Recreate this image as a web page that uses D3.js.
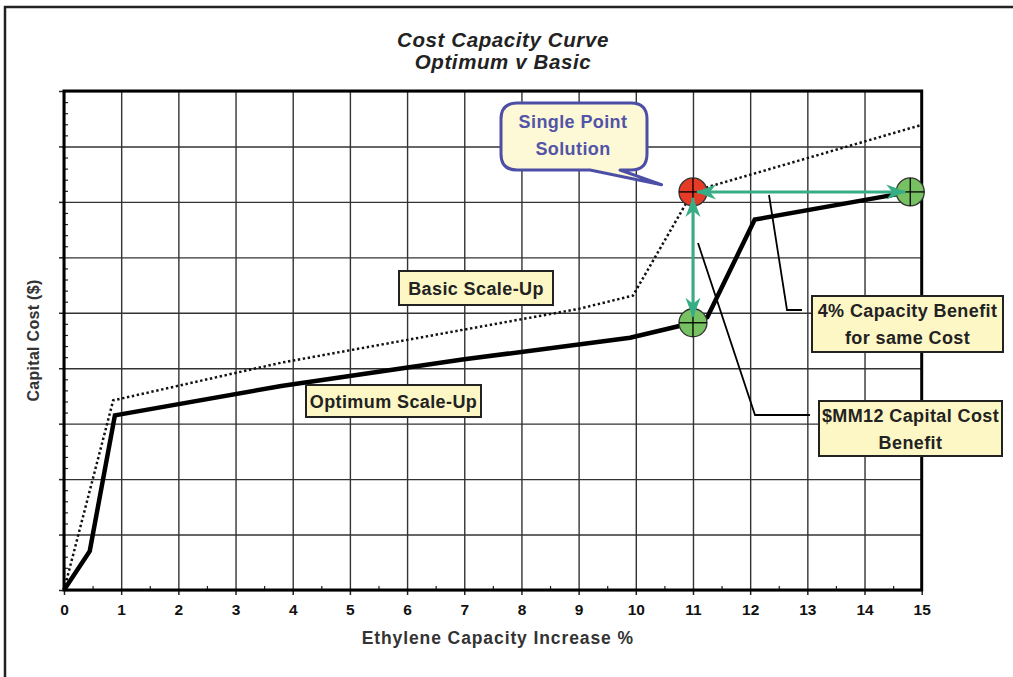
<!DOCTYPE html>
<html lang="en">
<head>
<meta charset="utf-8">
<title>Cost Capacity Curve</title>
<script src="https://d3js.org/d3.v7.min.js"></script>
<style>
  body { margin: 0; background: #fff; }
  text { font-family: "Liberation Sans", Arial, sans-serif; }
</style>
</head>
<body>
<script>
// tick values on the x axis (Ethylene capacity increase %)
var xTickValues = [0, 1, 2, 3, 4, 5, 6, 7, 8, 9, 10, 11, 12, 13, 14, 15];
// y axis has no labels, only grid lines
var yTickValues = [0, 1, 2, 3, 4, 5, 6, 7, 8, 9];

// Optimum scale-up curve (solid)
var optimumX = [0, 0.45, 0.89, 3.8, 7.0, 9.9, 11.0, 11.25, 12.08, 14.8];
var optimumY = [0, 0.70, 3.15, 3.68, 4.16, 4.55, 4.82, 4.92, 6.68, 7.18];

// Basic scale-up curve (dotted)
var basicX = [0, 0.86, 3.8, 9.0, 9.95, 11.0, 14.97];
var basicY = [0, 3.42, 4.10, 5.07, 5.31, 7.19, 8.38];

// highlighted points
var singlePoint = [11.0, 7.18];
var optimumPoints = [[14.8, 7.18], [11.0, 4.82]];

var w = 1013, h = 677;

var x = d3.scaleLinear().domain([0, 15]).range([64, 921.7]);
var y = d3.scaleLinear().domain([0, 9]).range([590, 91]);

var svg = d3.select("body").append("svg")
  .attr("width", w)
  .attr("height", h);

var green = "#36ad84";

// outer frame (left and top only, the rest is cropped)
svg.append("path")
  .attr("d", "M5," + (h + 5) + "V7H" + (w + 5))
  .attr("fill", "none")
  .attr("stroke", "#222")
  .attr("stroke-width", 2.5);

// title
["Cost Capacity Curve", "Optimum v Basic"].forEach(function(t, i) {
  svg.append("text")
    .attr("x", 503).attr("y", 47 + i * 22)
    .attr("text-anchor", "middle")
    .style("font-size", "20.5px").style("font-style", "italic").style("font-weight", "bold")
    .style("letter-spacing", "0.6px")
    .attr("fill", "#222")
    .text(t);
});

var plotH = y(0) - y(9);
var plotW = x(15) - x(0);

// grid lines
var gridX = svg.append("g")
  .attr("transform", "translate(0," + y(0) + ")")
  .call(d3.axisBottom(x).tickValues(xTickValues).tickSize(-plotH).tickFormat(""));
var gridY = svg.append("g")
  .attr("transform", "translate(" + x(0) + ",0)")
  .call(d3.axisLeft(y).tickValues(yTickValues).tickSize(-plotW).tickFormat(""));
[gridX, gridY].forEach(function(g) {
  g.select(".domain").remove();
  g.selectAll("line").attr("stroke", "#333").attr("stroke-width", 1.4);
});

// minor ticks (inside)
var minorX = svg.append("g")
  .attr("transform", "translate(0," + y(0) + ")")
  .call(d3.axisBottom(x).tickValues(d3.range(0.5, 15, 1)).tickSize(-4).tickFormat(""));
var minorY = svg.append("g")
  .attr("transform", "translate(" + x(0) + ",0)")
  .call(d3.axisLeft(y).tickValues(d3.range(0, 45).map(function(i) { return i / 5; })
      .filter(function(v) { return v % 1 !== 0; })).tickSize(-4).tickFormat(""));
[minorX, minorY].forEach(function(g) {
  g.select(".domain").remove();
  g.selectAll("line").attr("stroke", "#222").attr("stroke-width", 1.2);
});

// major ticks and labels
var xAxis = svg.append("g")
  .attr("transform", "translate(0," + y(0) + ")")
  .call(d3.axisBottom(x).tickValues(xTickValues).tickSize(5).tickPadding(9).tickFormat(d3.format("d")));
var yAxis = svg.append("g")
  .attr("transform", "translate(" + x(0) + ",0)")
  .call(d3.axisLeft(y).tickValues(yTickValues).tickSize(5).tickFormat(""));
[xAxis, yAxis].forEach(function(g) {
  g.select(".domain").remove();
  g.selectAll("line").attr("stroke", "#222").attr("stroke-width", 1.5);
});
xAxis.selectAll("text")
  .attr("fill", "#111")
  .style("font-size", "15.5px").style("font-weight", "bold")
  .style("font-family", "'Liberation Sans', Arial, sans-serif");

// plot frame
svg.append("rect")
  .attr("x", x(0)).attr("y", y(9))
  .attr("width", plotW).attr("height", plotH)
  .attr("fill", "none")
  .attr("stroke", "#000")
  .attr("stroke-width", 3);

// axis titles
svg.append("text")
  .attr("x", (x(0) + x(15)) / 2 + 5).attr("y", 644)
  .attr("text-anchor", "middle")
  .style("font-size", "17.5px").style("font-weight", "bold").style("letter-spacing", "0.9px")
  .attr("fill", "#333")
  .text("Ethylene Capacity Increase %");
svg.append("text")
  .attr("transform", "translate(39," + ((y(0) + y(9)) / 2) + ") rotate(-90)")
  .attr("text-anchor", "middle")
  .style("font-size", "16px").style("font-weight", "bold").style("letter-spacing", "0.3px")
  .attr("fill", "#333")
  .text("Capital Cost ($)");

// curves
var line = d3.line()
  .x(function(d) { return x(d[0]); })
  .y(function(d) { return y(d[1]); });

svg.append("path")
  .datum(d3.zip(basicX, basicY))
  .attr("fill", "none")
  .attr("stroke", "#111")
  .attr("stroke-width", 2.5)
  .attr("stroke-dasharray", "2.4,2.6")
  .attr("d", line);

svg.append("path")
  .datum(d3.zip(optimumX, optimumY))
  .attr("fill", "none")
  .attr("stroke", "#000")
  .attr("stroke-width", 4.5)
  .attr("stroke-linejoin", "miter")
  .attr("d", line);

// leader lines to the annotation boxes
var leaders = [
  [[769, 195], [787, 310], [802, 310]],
  [[698, 243], [755, 415], [810, 415]]
];
svg.selectAll("path.leader")
  .data(leaders)
  .enter().append("path")
  .attr("class", "leader")
  .attr("fill", "none")
  .attr("stroke", "#000")
  .attr("stroke-width", 1.8)
  .attr("d", d3.line());

// markers
function marker(p, fill) {
  var g = svg.append("g").attr("transform", "translate(" + x(p[0]) + "," + y(p[1]) + ")");
  g.append("circle").attr("r", 14).attr("fill", fill).attr("stroke", "#333").attr("stroke-width", 1.3);
  g.append("line").attr("x1", -14).attr("x2", 14).attr("stroke", "#000").attr("stroke-width", 1.3);
  g.append("line").attr("y1", -14).attr("y2", 14).attr("stroke", "#000").attr("stroke-width", 1.3);
}
marker(singlePoint, "#e63b27");
optimumPoints.forEach(function(p) { marker(p, "#78c163"); });

// arrows
var defs = svg.append("defs");
defs.append("marker")
  .attr("id", "head")
  .attr("viewBox", "0 -8 20 16")
  .attr("refX", 19).attr("refY", 0)
  .attr("markerWidth", 20).attr("markerHeight", 16)
  .attr("markerUnits", "userSpaceOnUse")
  .attr("orient", "auto-start-reverse")
  .append("path")
  .attr("d", "M0,-7.5L20,0L0,7.5L6,0Z")
  .attr("fill", green);

var sx = x(singlePoint[0]), sy = y(singlePoint[1]);
svg.append("line")
  .attr("x1", sx + 4).attr("y1", sy)
  .attr("x2", x(optimumPoints[0][0]) - 5).attr("y2", y(optimumPoints[0][1]))
  .attr("stroke", green).attr("stroke-width", 3)
  .attr("marker-start", "url(#head)").attr("marker-end", "url(#head)");
svg.append("line")
  .attr("x1", sx).attr("y1", sy + 6)
  .attr("x2", x(optimumPoints[1][0])).attr("y2", y(optimumPoints[1][1]) - 6)
  .attr("stroke", green).attr("stroke-width", 3)
  .attr("marker-start", "url(#head)").attr("marker-end", "url(#head)");

// annotation boxes
var boxes = [
  { x0: 399, y0: 271, x1: 553, y1: 305, lines: ["Basic Scale-Up"] },
  { x0: 306, y0: 385, x1: 481, y1: 417, lines: ["Optimum Scale-Up"] },
  { x0: 812, y0: 296, x1: 1003, y1: 352, lines: ["4% Capacity Benefit", "for same Cost"] },
  { x0: 819, y0: 401, x1: 1002, y1: 456, lines: ["$MM12 Capital Cost", "Benefit"] }
];
boxes.forEach(function(b) {
  svg.append("rect")
    .attr("x", b.x0).attr("y", b.y0)
    .attr("width", b.x1 - b.x0).attr("height", b.y1 - b.y0)
    .attr("fill", "#fdf7c5")
    .attr("stroke", "#222").attr("stroke-width", 2);
  var cy = (b.y0 + b.y1) / 2;
  b.lines.forEach(function(t, i) {
    svg.append("text")
      .attr("x", (b.x0 + b.x1) / 2)
      .attr("y", cy + 6.5 + (i - (b.lines.length - 1) / 2) * 27)
      .attr("text-anchor", "middle")
      .style("font-size", "18px").style("font-weight", "bold").style("letter-spacing", "0.4px")
      .attr("fill", "#222")
      .text(t);
  });
});

// speech bubble callout
var L = 501, T = 103, R = 647, B = 170, r = 16;
var bubble = d3.path();
bubble.moveTo(L + r, T);
bubble.lineTo(R - r, T);
bubble.quadraticCurveTo(R, T, R, T + r);
bubble.lineTo(R, B - r);
bubble.quadraticCurveTo(R, B, R - r, B);
bubble.lineTo(620, B);
bubble.lineTo(x(10.45), y(7.31));
bubble.lineTo(590, B);
bubble.lineTo(L + r, B);
bubble.quadraticCurveTo(L, B, L, B - r);
bubble.lineTo(L, T + r);
bubble.quadraticCurveTo(L, T, L + r, T);
bubble.closePath();
svg.append("path")
  .attr("d", bubble.toString())
  .attr("fill", "#fdf9d6")
  .attr("stroke", "#4d4fa6")
  .attr("stroke-width", 3)
  .attr("stroke-linejoin", "round");
["Single Point", "Solution"].forEach(function(t, i) {
  svg.append("text")
    .attr("x", 573).attr("y", 128 + i * 27)
    .attr("text-anchor", "middle")
    .style("font-size", "18px").style("font-weight", "bold").style("letter-spacing", "0.4px")
    .attr("fill", "#5254a8")
    .text(t);
});
</script>
</body>
</html>
